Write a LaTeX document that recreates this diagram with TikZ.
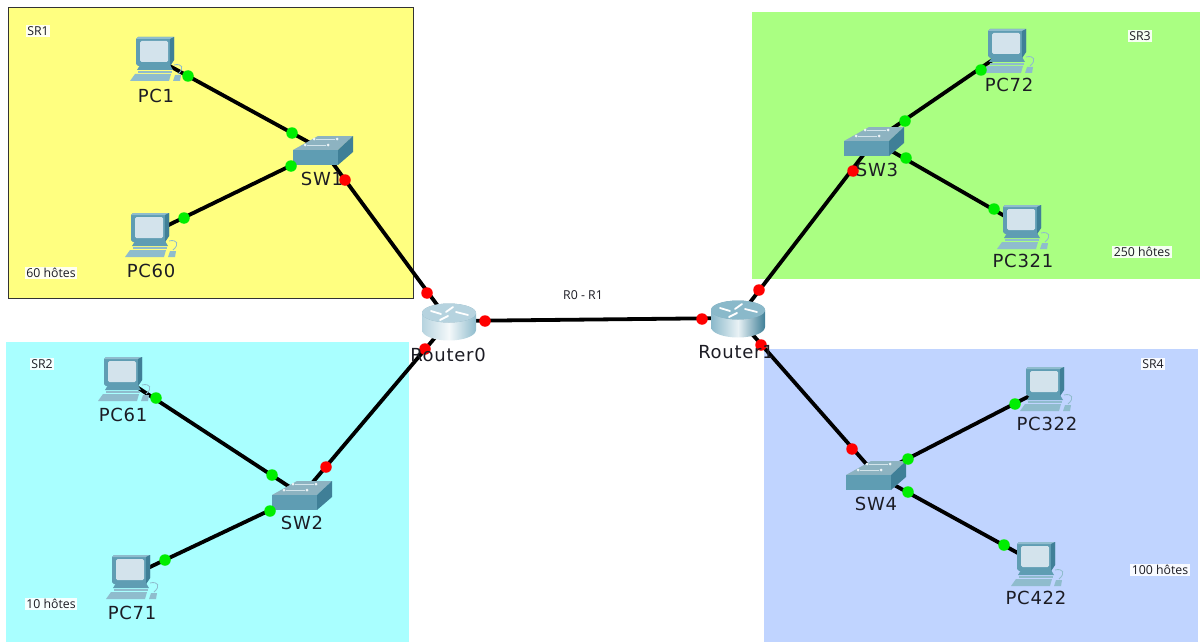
\documentclass[tikz,border=0pt]{standalone}
\usepackage{fontspec}
\setmainfont{Open Sans}
\newfontfamily\devfont[LetterSpace=4]{DejaVu Sans}
\definecolor{srA}{HTML}{FFFF80}
\definecolor{srB}{HTML}{A9FFFF}
\definecolor{srC}{HTML}{AAFF82}
\definecolor{srD}{HTML}{C0D4FF}
\definecolor{teal1}{HTML}{5F9DB3}
\definecolor{teal2}{HTML}{3F7F97}
\definecolor{teal3}{HTML}{8FBCCD}
\definecolor{screen}{HTML}{D3E3EC}
\definecolor{litegreen}{HTML}{00EE00}
\definecolor{inkdark}{HTML}{1C1C24}
\tikzset{
  x=1pt,y=-1pt,
  anchorpt/.style={inner sep=0pt,minimum size=0pt},
  link/.style={line width=3.8pt,black},
  gdot/.style={circle,fill=litegreen,draw=none,inner sep=0pt,minimum size=11.5pt},
  rdot/.style={circle,fill=red,draw=none,inner sep=0pt,minimum size=11.5pt},
  devlabel/.style={font=\devfont\fontsize{18}{20}\selectfont,text=inkdark,inner sep=0pt},
  note/.style={font=\fontsize{12.3}{14}\selectfont,text=inkdark,fill=white,fill opacity=.9,text opacity=1,inner sep=1.5pt},
  pics/pccomp/.style={code={
    \draw[teal3,line width=.8pt] (19,7) .. controls (27,5) and (30,10) .. (23,16);
    \fill[teal3] (-25,23) -- (-20,16) -- (16,16) -- (14,23) -- cycle;
    \fill[teal3] (18,23) -- (20,17) -- (26,17) -- (25,23) -- cycle;
    \fill[teal1] (-15,7) -- (15,7) -- (18,12) -- (-18,12) -- cycle;
    \fill[teal3] (-17,13) rectangle (17,15);
    \fill[teal1] (-19,-19) -- (-17,-21) -- (19,-21) -- (19,2) -- (15,8) -- (-17,8) -- (-19,6) -- cycle;
    \fill[teal3] (-19,-19) -- (-17,-21) -- (19,-21) -- (15,-19) -- cycle;
    \fill[teal2] (15,-19) -- (19,-21) -- (19,2) -- (15,8) -- cycle;
    \fill[screen,rounded corners=1.5pt] (-15,-17) rectangle (13,4);
  }},
  pics/swbox/.style={code={
    \fill[teal3!85!gray] (-30,0) -- (-5,-14) -- (30,-14) -- (15,0) -- cycle;
    \fill[teal1] (-30,0) rectangle (15,15);
    \fill[teal2] (15,0) -- (30,-14) -- (30,2) -- (15,15) -- cycle;
    \fill[white!85!teal3] (-9,-11) circle (1.5) (14,-11) circle (1.5) (-18,-5) circle (1.5) (5,-5) circle (1.5);
    \draw[white!60!teal3,line width=.7pt] (-7,-11) -- (12,-11) (-16,-5) -- (3,-5);
  }},
  pics/rtbox/.style n args={3}{code={
    \shade[left color=#1,right color=#3,middle color=#2]
      (-27,-8) -- (-27,9) arc[start angle=180,end angle=0,x radius=27,y radius=10.5] -- (27,-8) -- cycle;
    \fill[teal3!90!black] (0,-8) ellipse[x radius=27,y radius=9.5];
    \fill[#1] (0,-8) ellipse[x radius=27,y radius=9.5];
    \draw[white,line width=1.8pt,line cap=round] (-18,-10) -- (-8,-7) (4,-14) -- (-3,-9) (19,-6) -- (7,-9) (-9,-1) -- (-1,-5);
  }}
}
\begin{document}
\begin{tikzpicture}
\useasboundingbox (0,0) rectangle (1200,642);
% regions
\fill[srA] (8,8) rectangle (413,298);
\draw[black!80,line width=1pt] (8,8) rectangle (413,298);
\fill[srB] (6,342) rectangle (409,642);
\fill[srC] (752,12) rectangle (1200,279);
\fill[srD] (764,349) rectangle (1198,642);
% device anchors
\node[anchorpt] (pc1) at (155,58) {};
\node[anchorpt] (pc60) at (150,234) {};
\node[anchorpt] (pc61) at (123,378) {};
\node[anchorpt] (pc71) at (131,576) {};
\node[anchorpt] (pc72) at (1007,50) {};
\node[anchorpt] (pc321) at (1022,226) {};
\node[anchorpt] (pc322) at (1045,388) {};
\node[anchorpt] (pc422) at (1036,563) {};
\node[anchorpt] (sw1) at (323,150) {};
\node[anchorpt] (sw2) at (302,495) {};
\node[anchorpt] (sw3) at (874,141) {};
\node[anchorpt] (sw4) at (876,475) {};
\node[anchorpt] (r0) at (449,321) {};
\node[anchorpt] (r1) at (738,318) {};
% links
\draw[link] (pc1.center) -- (sw1.center);
\draw[link] (pc60.center) -- (sw1.center);
\draw[link] (sw1.center) -- (r0.center);
\draw[link] (r0.center) -- (r1.center);
\draw[link] (r0.center) -- (sw2.center);
\draw[link] (pc61.center) -- (sw2.center);
\draw[link] (pc71.center) -- (sw2.center);
\draw[link] (sw3.center) -- (pc72.center);
\draw[link] (sw3.center) -- (pc321.center);
\draw[link] (sw3.center) -- (r1.center);
\draw[link] (r1.center) -- (sw4.center);
\draw[link] (sw4.center) -- (pc322.center);
\draw[link] (sw4.center) -- (pc422.center);
% devices
\foreach \n in {pc1,pc60,pc61,pc71,pc72,pc321,pc322,pc422} \pic at (\n) {pccomp};
\foreach \n in {sw1,sw2,sw3,sw4} \pic at (\n) {swbox};
\pic at (r0) {rtbox={teal3!65!white}{white!90!teal3}{teal3}};
\pic at (r1) {rtbox={teal3!90!teal1}{white!80!teal3}{teal2}};
% link lights
\node[gdot] (d1) at (188,76) {};
\node[gdot] (d2) at (292,133) {};
\node[gdot] (d3) at (184,218) {};
\node[gdot] (d4) at (291,166) {};
\node[rdot] (d5) at (345,180) {};
\node[rdot] (d6) at (427,293) {};
\node[rdot] (d7) at (485,321) {};
\node[rdot] (d8) at (702,319) {};
\node[rdot] (d9) at (425,349) {};
\node[rdot] (d10) at (326,467) {};
\node[gdot] (d11) at (156,398) {};
\node[gdot] (d12) at (272,475) {};
\node[gdot] (d13) at (165,560) {};
\node[gdot] (d14) at (270,511) {};
\node[gdot] (d15) at (905,121) {};
\node[gdot] (d16) at (981,70) {};
\node[gdot] (d17) at (906,158) {};
\node[gdot] (d18) at (994,209) {};
\node[rdot] (d19) at (853,171) {};
\node[rdot] (d20) at (759,290) {};
\node[rdot] (d21) at (761,345) {};
\node[rdot] (d22) at (852,449) {};
\node[gdot] (d23) at (908,459) {};
\node[gdot] (d24) at (1015,404) {};
\node[gdot] (d25) at (908,492) {};
\node[gdot] (d26) at (1004,545) {};
% device labels
\node[devlabel] (lpc1) at (156,96) {PC1};
\node[devlabel] (lpc60) at (151,271) {PC60};
\node[devlabel] (lpc61) at (123,415) {PC61};
\node[devlabel] (lpc71) at (132,613) {PC71};
\node[devlabel] (lpc72) at (1009,85) {PC72};
\node[devlabel] (lpc321) at (1023,261) {PC321};
\node[devlabel] (lpc322) at (1047,424) {PC322};
\node[devlabel] (lpc422) at (1036,598) {PC422};
\node[devlabel] (lsw1) at (322,179) {SW1};
\node[devlabel] (lsw2) at (302,523) {SW2};
\node[devlabel] (lsw3) at (877,170) {SW3};
\node[devlabel] (lsw4) at (876,504) {SW4};
\node[devlabel] (lr0) at (448,355) {Router0};
\node[devlabel] (lr1) at (736,352) {Router1};
% notes
\node[note] (n1) at (38,31) {SR1};
\node[note] (n2) at (51,273) {60 hôtes};
\node[note] (n3) at (42,364) {SR2};
\node[note] (n4) at (51,604) {10 hôtes};
\node[note] (n5) at (1140,36) {SR3};
\node[note] (n6) at (1142,252) {250 hôtes};
\node[note] (n7) at (1153,364) {SR4};
\node[note] (n8) at (1160,570) {100 hôtes};
\node[note] (n9) at (583,295) {R0 - R1};
\end{tikzpicture}
\end{document}
